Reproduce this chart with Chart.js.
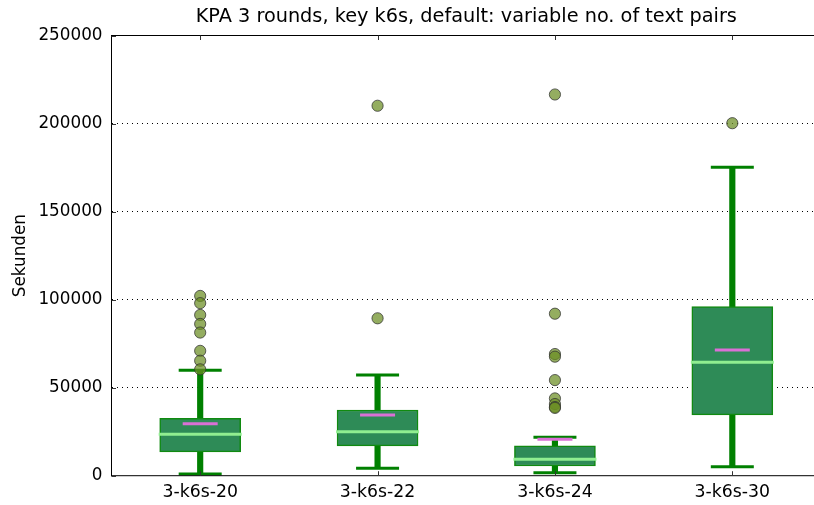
<!DOCTYPE html>
<html>
<head>
<meta charset="utf-8">
<script src="https://cdn.jsdelivr.net/npm/chart.js@4.4.0/dist/chart.umd.min.js"></script>
<style>
  html, body { margin: 0; padding: 0; background: #fff; overflow: hidden; }
  canvas { display: block; }
</style>
</head>
<body>
<canvas id="boxChart" width="830" height="505"></canvas>
<script>
// values (seconds)
const labels = ['3-k6s-20', '3-k6s-22', '3-k6s-24', '3-k6s-30'];
const q1 = [13500, 16900, 5500, 34500];
const q3 = [32600, 37300, 17000, 96000];
const medians = [23500, 25000, 9300, 64400];
const means = [29500, 34500, 20700, 71400];
const whiskerLow = [1000, 4200, 1700, 5100];
const whiskerHigh = [59900, 57200, 21800, 175200];
const outliers = [
    [102100, 98000, 91300, 86200, 81300, 70900, 65300, 60400],
    [210100, 89400],
    [216500, 92000, 69100, 67600, 54300, 43900, 40700, 39000, 38500],
    [200200]
];
const yTicks = [0, 50000, 100000, 150000, 200000, 250000];
const titleText = 'KPA 3 rounds, key k6s, default: variable no. of text pairs';

const FAMILY = 'DejaVu Sans';

const outlierPoints = [];
outliers.forEach((list, i) => list.forEach(v => outlierPoints.push({ x: labels[i], y: v })));

// matplotlib-ish frame: four spines + inward ticks, title centred over the axes
const framePlugin = {
    id: 'frame',
    afterDatasetsDraw(chart) {
        const { ctx, chartArea: a, scales } = chart;
        ctx.save();
        ctx.strokeStyle = '#000';
        ctx.lineWidth = 1;
        ctx.strokeRect(a.left, a.top, a.right - a.left, a.bottom - a.top);
        ctx.strokeStyle = '#333';
        ctx.beginPath();
        yTicks.forEach(v => {
            const y = Math.round(scales.y.getPixelForValue(v)) + 0.5;
            ctx.moveTo(a.left, y); ctx.lineTo(a.left + 4.5, y);
            ctx.moveTo(a.right, y); ctx.lineTo(a.right - 4.5, y);
        });
        labels.forEach((l, i) => {
            const x = Math.round(scales.x.getPixelForValue(i)) + 0.5;
            ctx.moveTo(x, a.bottom); ctx.lineTo(x, a.bottom - 4.5);
            ctx.moveTo(x, a.top); ctx.lineTo(x, a.top + 4.5);
        });
        ctx.stroke();

        ctx.fillStyle = '#000';
        ctx.font = '19.3px "' + FAMILY + '"';
        ctx.textAlign = 'center';
        ctx.textBaseline = 'middle';
        ctx.fillText(titleText, (a.left + a.right) / 2, 17);
        ctx.restore();
    }
};

new Chart(document.getElementById('boxChart'), {
    type: 'bar',
    data: {
        labels: labels,
        datasets: [
            {
                type: 'line', label: 'outliers', order: 0,
                data: outlierPoints, showLine: false,
                pointStyle: 'circle', pointRadius: 5.6,
                pointBackgroundColor: 'rgba(107,142,35,0.72)',
                pointBorderColor: 'rgba(50,50,50,0.75)', pointBorderWidth: 1
            },
            {
                type: 'line', label: 'mean', order: 1,
                data: means, showLine: false,
                pointStyle: 'line', pointRadius: 17.5,
                pointBorderColor: '#da70d6', pointBorderWidth: 3
            },
            {
                type: 'line', label: 'median', order: 2,
                data: medians, showLine: false,
                pointStyle: 'line', pointRadius: 41.5,
                pointBorderColor: '#90ee90', pointBorderWidth: 3
            },
            {
                type: 'line', label: 'cap high', order: 3,
                data: whiskerHigh, showLine: false,
                pointStyle: 'line', pointRadius: 21.5,
                pointBorderColor: '#008000', pointBorderWidth: 3
            },
            {
                type: 'line', label: 'cap low', order: 3,
                data: whiskerLow, showLine: false,
                pointStyle: 'line', pointRadius: 21.5,
                pointBorderColor: '#008000', pointBorderWidth: 3
            },
            {
                label: 'box', order: 4, grouped: false,
                data: labels.map((l, i) => [q1[i], q3[i]]),
                backgroundColor: '#2e8b57', borderColor: '#108a10',
                borderWidth: 1.5, borderSkipped: false, barThickness: 81
            },
            {
                label: 'whisker high', order: 5, grouped: false,
                data: labels.map((l, i) => [q3[i], whiskerHigh[i]]),
                backgroundColor: '#008000', borderWidth: 0, barThickness: 5.5
            },
            {
                label: 'whisker low', order: 5, grouped: false,
                data: labels.map((l, i) => [whiskerLow[i], q1[i]]),
                backgroundColor: '#008000', borderWidth: 0, barThickness: 5.5
            }
        ]
    },
    options: {
        responsive: false,
        animation: false,
        devicePixelRatio: 1,
        layout: { autoPadding: false, padding: { left: 0, right: 9, top: 35.5, bottom: 0 } },
        plugins: {
            legend: { display: false },
            tooltip: { enabled: false },
            title: { display: false }
        },
        scales: {
            x: {
                grid: { display: false, drawTicks: false },
                border: { display: false },
                ticks: { color: '#000', font: { family: FAMILY, size: 17.3 }, padding: 6, maxRotation: 0 },
                afterFit(scale) {
                    scale.height = 29.3;
                    scale.paddingLeft = 0; scale.paddingRight = 0;
                }
            },
            y: {
                min: 0, max: 250000,
                afterBuildTicks(scale) { scale.ticks = yTicks.map(v => ({ value: v })); },
                grid: {
                    drawTicks: false,
                    lineWidth: 1,
                    color: c => (c.tick && (c.tick.value === 0 || c.tick.value === 250000)) ? 'rgba(0,0,0,0)' : '#000'
                },
                border: { display: false, dash: [1, 4] },
                ticks: { color: '#000', font: { family: FAMILY, size: 16.8 }, padding: 9, callback: v => String(v) },
                title: {
                    display: true, text: 'Sekunden', color: '#000',
                    font: { family: FAMILY, size: 16.8 },
                    padding: { top: 11, bottom: 0 }
                },
                afterFit(scale) {
                    scale.width = 111.5;
                    scale.paddingTop = 0; scale.paddingBottom = 0;
                }
            }
        }
    },
    plugins: [framePlugin]
});
</script>
</body>
</html>
